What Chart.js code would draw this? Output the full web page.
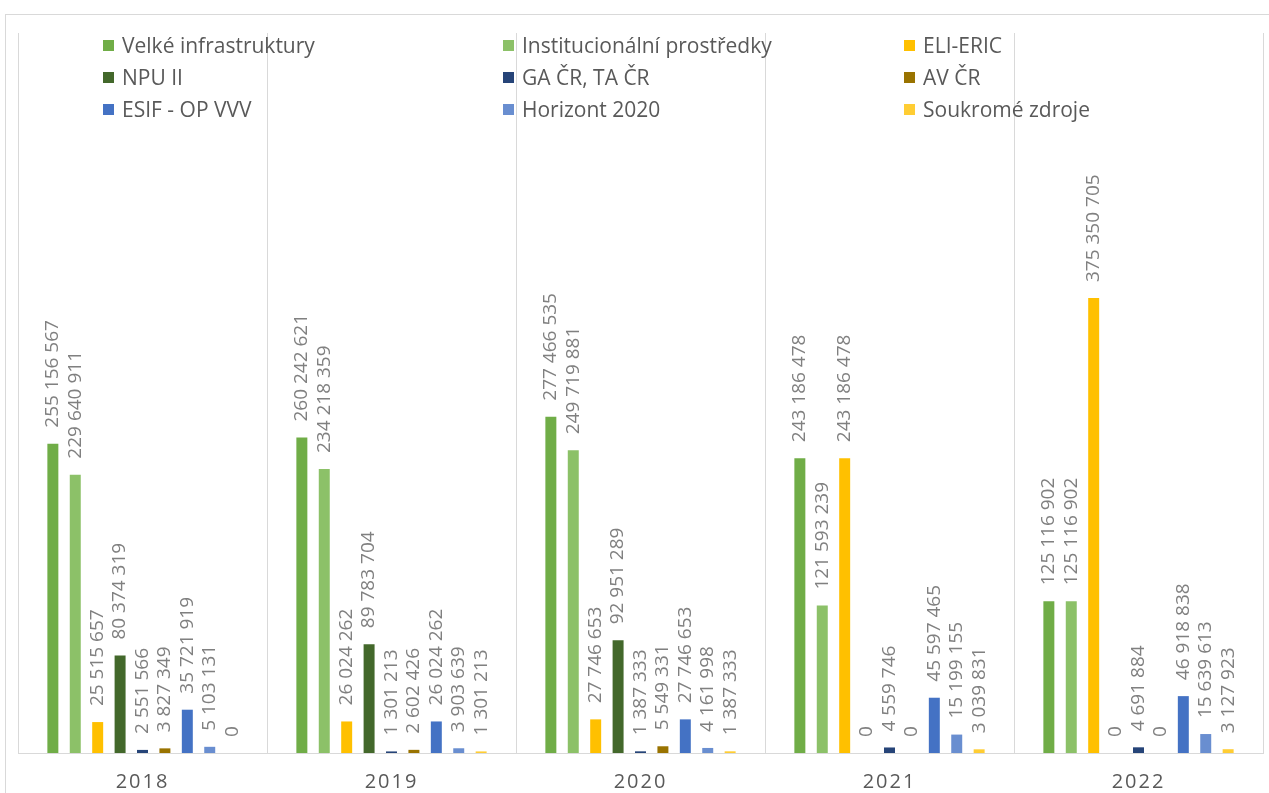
<!DOCTYPE html>
<html>
<head>
<meta charset="utf-8">
<script src="https://cdn.jsdelivr.net/npm/chart.js@4.4.0/dist/chart.umd.min.js"></script>
<style>
  html, body { margin: 0; padding: 0; background: #fff; overflow: hidden; }
  #wrap { position: relative; width: 1269px; height: 793px; overflow: hidden; }
  #frame { position: absolute; left: 5px; top: 14px; width: 1400px; height: 900px; border: 1px solid #d9d9d9; box-sizing: border-box; }
  #legend { position: absolute; left: 0; top: 0; font-family: "Open Sans", sans-serif; font-size: 21px; color: #595959; }
  .item { position: absolute; white-space: nowrap; line-height: 24px; }
  .item span.box { display: inline-block; width: 11px; height: 11px; margin-right: 8px; vertical-align: 2px; }
  canvas { position: absolute; left: 0; top: 0; }
</style>
</head>
<body>
<div id="wrap">
  <div id="frame"></div>
  <canvas id="chart" width="1269" height="815"></canvas>
  <div id="legend"></div>
</div>
<script>
var years = ['2018', '2019', '2020', '2021', '2022'];

var seriesNames = ['Velké infrastruktury', 'Institucionální prostředky', 'ELI-ERIC',
  'NPU II', 'GA ČR, TA ČR', 'AV ČR',
  'ESIF - OP VVV', 'Horizont 2020', 'Soukromé zdroje'];

var seriesColors = ['#70ad47', '#8cc168', '#ffc000',
  '#43682b', '#264478', '#997300',
  '#4472c4', '#698ed0', '#ffcd33'];

var velke = [255156567, 260242621, 277466535, 243186478, 125116902];
var institucionalni = [229640911, 234218359, 249719881, 121593239, 125116902];
var eliEric = [25515657, 26024262, 27746653, 243186478, 375350705];
var npu = [80374319, 89783704, 92951289, 0, 0];
var gaTa = [2551566, 1301213, 1387333, 4559746, 4691884];
var avCr = [3827349, 2602426, 5549331, 0, 0];
var esif = [35721919, 26024262, 27746653, 45597465, 46918838];
var horizont = [5103131, 3903639, 4161998, 15199155, 15639613];
var soukrome = [0, 1301213, 1387333, 3039831, 3127923];

var seriesValues = [velke, institucionalni, eliEric, npu, gaTa, avCr, esif, horizont, soukrome];

function fmt(v) {
  return String(v).replace(/\B(?=(\d{3})+(?!\d))/g, ' ');
}

// legend in three columns, row by row
var legendX = [103, 503, 904];
var legendY = [45, 77, 109];
var legend = document.getElementById('legend');
seriesNames.forEach(function(name, i) {
  var d = document.createElement('div');
  d.className = 'item';
  d.style.left = legendX[i % 3] + 'px';
  d.style.top = (legendY[Math.floor(i / 3)] - 12) + 'px';
  d.innerHTML = '<span class="box" style="background:' + seriesColors[i] + '"></span>';
  d.appendChild(document.createTextNode(name));
  legend.appendChild(d);
});

// value labels, rotated above bars
var barLabels = {
  id: 'barLabels',
  beforeDraw: function(chart) {
    chart.ctx.letterSpacing = '2px';
  },
  beforeDatasetsDraw: function(chart) {
    chart.ctx.letterSpacing = '0px';
  },
  afterDatasetsDraw: function(chart) {
    var ctx = chart.ctx;
    ctx.save();
    ctx.font = '19px "Open Sans", sans-serif';
    ctx.fillStyle = '#808080';
    ctx.textAlign = 'left';
    ctx.textBaseline = 'middle';
    chart.data.datasets.forEach(function(ds, i) {
      chart.getDatasetMeta(i).data.forEach(function(bar, j) {
        ctx.save();
        ctx.translate(bar.x, bar.y - 16);
        ctx.rotate(-Math.PI / 2);
        ctx.fillText(fmt(ds.data[j]), 0, 0);
        ctx.restore();
      });
    });
    ctx.restore();
  }
};

var ctx = document.getElementById('chart').getContext('2d');
var chart = new Chart(ctx, {
  type: 'bar',
  data: {
    labels: years,
    datasets: seriesNames.map(function(name, i) {
      return {
        label: name,
        data: seriesValues[i],
        backgroundColor: seriesColors[i],
        barPercentage: 0.49,
        categoryPercentage: 0.81
      };
    })
  },
  options: {
    responsive: false,
    animation: false,
    layout: { padding: { left: 18, right: 6, top: 33, bottom: 4 } },
    plugins: {
      legend: { display: false },
      tooltip: { enabled: false }
    },
    scales: {
      x: {
        grid: { color: '#d9d9d9', drawTicks: false, offset: true },
        border: { color: '#d9d9d9' },
        ticks: { color: '#595959', font: { family: 'Open Sans', size: 20 }, padding: 17 }
      },
      y: {
        display: false,
        min: 0,
        max: 594000000
      }
    }
  },
  plugins: [barLabels]
});
</script>
</body>
</html>
